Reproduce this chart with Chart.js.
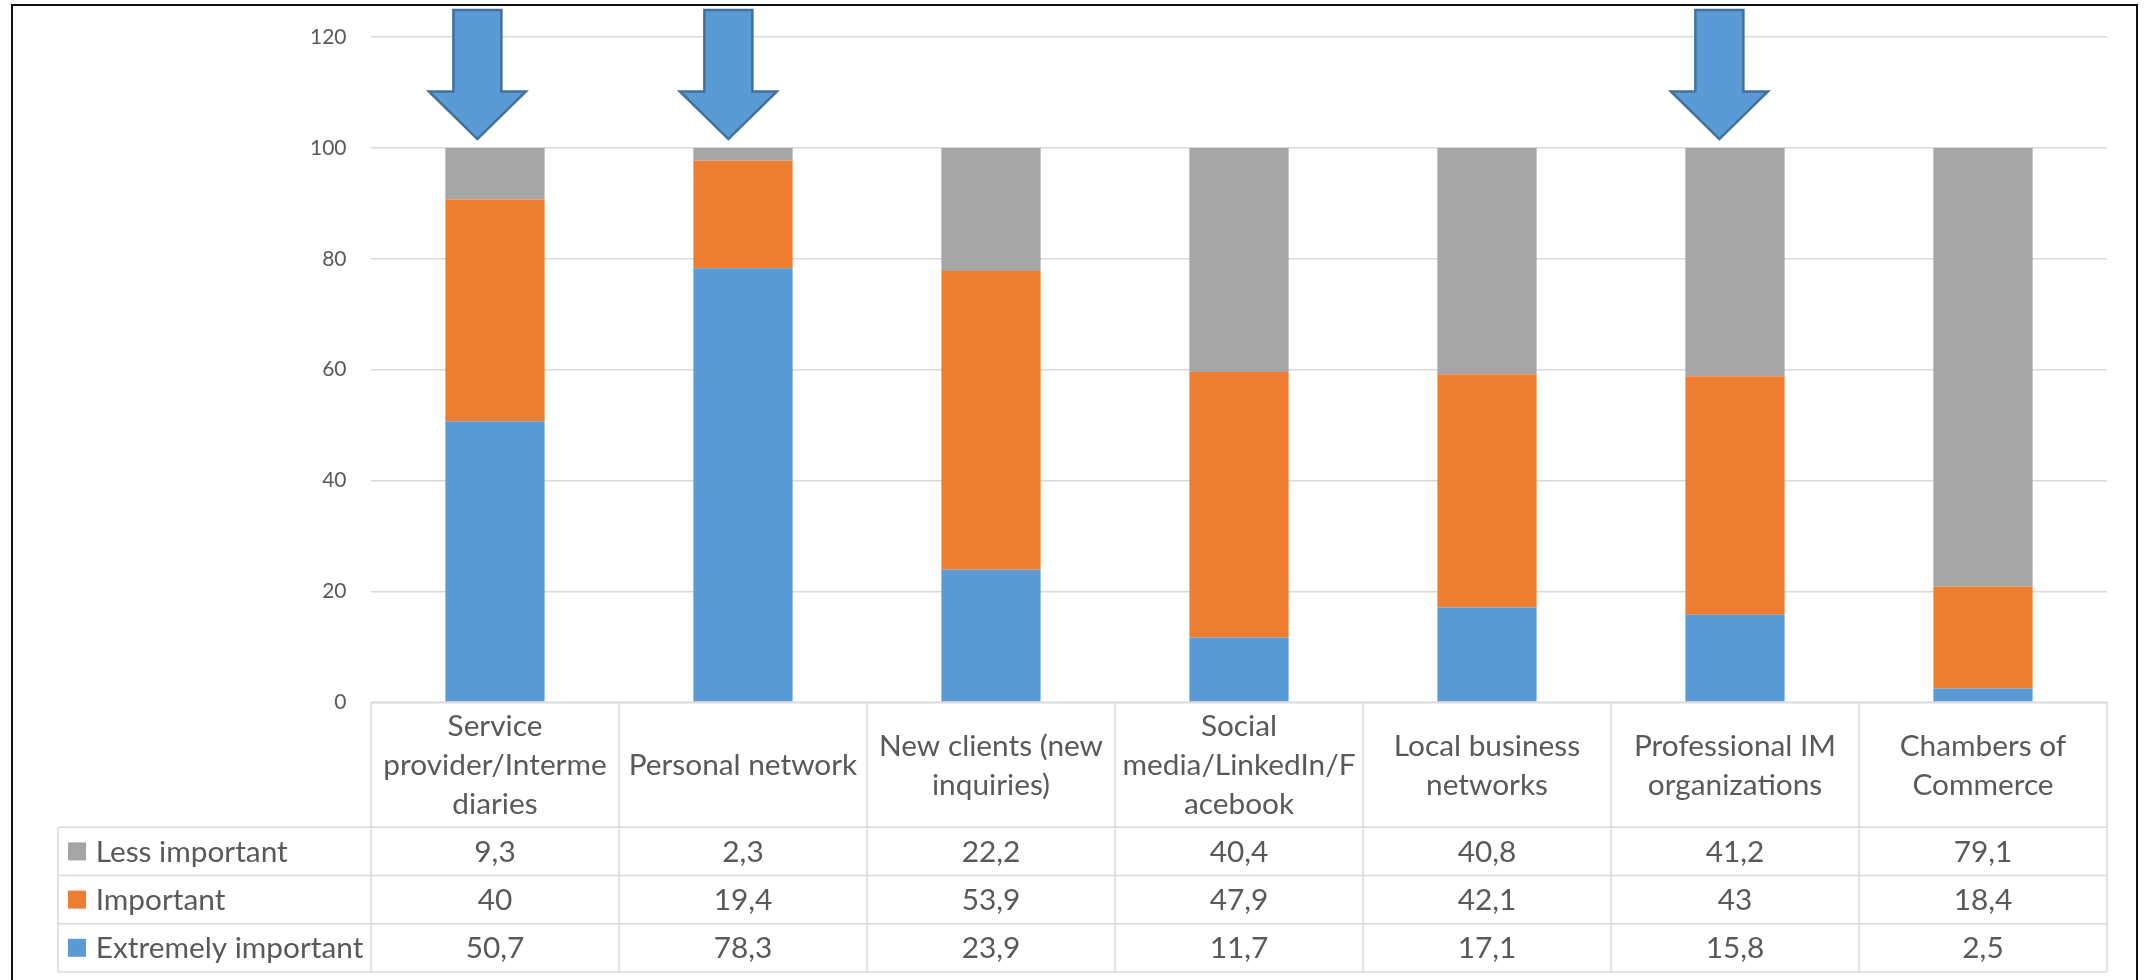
<!DOCTYPE html>
<html>
<head>
<meta charset="utf-8">
<title>Importance of channels</title>
<script src="https://cdn.jsdelivr.net/npm/chart.js@4.4.1/dist/chart.umd.min.js"></script>
<style>
  html, body { margin: 0; padding: 0; background: #ffffff; }
  #wrap { position: relative; width: 2147px; height: 980px; overflow: hidden; }
  canvas { display: block; }
</style>
</head>
<body>
<div id="wrap"><canvas id="chart" width="2147" height="980"></canvas></div>
<script>
// Category names, already broken into the lines shown in the table header
const categoryLines = [
  ["Service", "provider/Interme", "diaries"],
  ["Personal network"],
  ["New clients (new", "inquiries)"],
  ["Social", "media/LinkedIn/F", "acebook"],
  ["Local business", "networks"],
  ["Professional IM", "organizations"],
  ["Chambers of", "Commerce"]
];

// Shares per category (percent)
const lessImportant      = [9.3, 2.3, 22.2, 40.4, 40.8, 41.2, 79.1];
const important          = [40, 19.4, 53.9, 47.9, 42.1, 43, 18.4];
const extremelyImportant = [50.7, 78.3, 23.9, 11.7, 17.1, 15.8, 2.5];

// Value axis
const yMin = 0;
const yMax = 120;
const yStep = 20;

// Highlight arrows: category index and a small sideways shift in category units
const arrowMarks = [
  { cat: 0, shift: -0.071 },
  { cat: 1, shift: -0.059 },
  { cat: 5, shift: -0.063 }
];

const FONT = "Lato, Carlito, 'Liberation Sans', sans-serif";
const TEXT_COLOR = "#595959";
const LINE_COLOR = "#d9d9d9";

const TABLE = {
  headerHeight: 125,
  rowHeight: 48.2,
  legendWidth: 313,
  lineHeight: 39,
  baselineShift: 10.5,
  fontSize: 29.8,
  keySize: 18,
  keyInset: 10,
  textInset: 37.7
};

const ARROW = {
  tail: 124.9,   // value-axis positions of the arrow parts
  neck: 110.2,
  tip: 101.6,
  shaftHalf: 24,
  headHalf: 48.5,
  fill: "#5b9bd5",
  stroke: "#41719c",
  lineWidth: 2.5
};

const fmt = v => String(v).replace(".", ",");

// Outer frame around the whole figure
const framePlugin = {
  id: "frame",
  afterDraw(chart) {
    const { ctx } = chart;
    ctx.save();
    ctx.strokeStyle = "#111111";
    ctx.lineWidth = 2;
    ctx.strokeRect(12, 5, 2125, 1100);
    ctx.restore();
  }
};

// Data table under the plot: header with categories, one row per series
const tablePlugin = {
  id: "dataTable",
  afterDraw(chart) {
    const { ctx, chartArea: area, scales: { x } } = chart;
    const n = categoryLines.length;
    const colW = (area.right - area.left) / n;
    const top = area.bottom;
    const headerBottom = top + TABLE.headerHeight;
    const rows = chart.data.datasets.slice().reverse();
    const bottom = headerBottom + rows.length * TABLE.rowHeight;
    const tableLeft = area.left - TABLE.legendWidth;

    ctx.save();
    ctx.strokeStyle = LINE_COLOR;
    ctx.lineWidth = 1.5;
    ctx.beginPath();
    ctx.moveTo(area.left, top);
    ctx.lineTo(area.right, top);
    for (let r = 0; r <= rows.length; r++) {
      const y = headerBottom + r * TABLE.rowHeight;
      ctx.moveTo(tableLeft, y);
      ctx.lineTo(area.right, y);
    }
    for (let c = 0; c <= n; c++) {
      const xx = x.getPixelForValue(c) - colW / 2;
      ctx.moveTo(xx, top);
      ctx.lineTo(xx, bottom);
    }
    ctx.moveTo(tableLeft, headerBottom);
    ctx.lineTo(tableLeft, bottom);
    ctx.stroke();

    ctx.fillStyle = TEXT_COLOR;
    ctx.font = TABLE.fontSize + "px " + FONT;
    ctx.textBaseline = "alphabetic";
    ctx.textAlign = "center";

    const headCenter = (top + headerBottom) / 2;
    categoryLines.forEach((lines, i) => {
      const cx = x.getPixelForValue(i);
      lines.forEach((t, j) => {
        const y = headCenter + TABLE.baselineShift + (j - (lines.length - 1) / 2) * TABLE.lineHeight;
        ctx.fillText(t, cx, y);
      });
    });

    rows.forEach((ds, r) => {
      const rowCenter = headerBottom + (r + 0.5) * TABLE.rowHeight;
      const base = rowCenter + TABLE.baselineShift;
      ds.data.forEach((v, i) => {
        ctx.fillText(fmt(v), x.getPixelForValue(i), base);
      });
      ctx.fillStyle = ds.backgroundColor;
      ctx.fillRect(tableLeft + TABLE.keyInset, rowCenter - TABLE.keySize / 2, TABLE.keySize, TABLE.keySize);
      ctx.fillStyle = TEXT_COLOR;
      ctx.textAlign = "left";
      ctx.fillText(ds.label, tableLeft + TABLE.textInset, base);
      ctx.textAlign = "center";
    });
    ctx.restore();
  }
};

// Down arrows pointing at selected bars
const arrowPlugin = {
  id: "arrows",
  afterDraw(chart) {
    const { ctx, scales: { x, y } } = chart;
    const colW = (chart.chartArea.right - chart.chartArea.left) / categoryLines.length;
    const yTail = y.getPixelForValue(ARROW.tail);
    const yNeck = y.getPixelForValue(ARROW.neck);
    const yTip = y.getPixelForValue(ARROW.tip);
    ctx.save();
    ctx.fillStyle = ARROW.fill;
    ctx.strokeStyle = ARROW.stroke;
    ctx.lineWidth = ARROW.lineWidth;
    ctx.lineJoin = "miter";
    arrowMarks.forEach(m => {
      const cx = x.getPixelForValue(m.cat) + m.shift * colW;
      ctx.beginPath();
      ctx.moveTo(cx - ARROW.shaftHalf, yTail);
      ctx.lineTo(cx + ARROW.shaftHalf, yTail);
      ctx.lineTo(cx + ARROW.shaftHalf, yNeck);
      ctx.lineTo(cx + ARROW.headHalf, yNeck);
      ctx.lineTo(cx, yTip);
      ctx.lineTo(cx - ARROW.headHalf, yNeck);
      ctx.lineTo(cx - ARROW.shaftHalf, yNeck);
      ctx.closePath();
      ctx.fill();
      ctx.stroke();
    });
    ctx.restore();
  }
};

new Chart(document.getElementById("chart"), {
  type: "bar",
  data: {
    labels: categoryLines.map(l => l.join(" ")),
    datasets: [
      { label: "Extremely important", data: extremelyImportant, backgroundColor: "#5b9bd5" },
      { label: "Important", data: important, backgroundColor: "#ed7d31" },
      { label: "Less important", data: lessImportant, backgroundColor: "#a5a5a5" }
    ]
  },
  options: {
    responsive: false,
    animation: false,
    devicePixelRatio: 1,
    layout: { padding: { left: 0, right: 40, top: 34.4, bottom: 277.7 } },
    datasets: { bar: { categoryPercentage: 0.4, barPercentage: 1, borderWidth: 0 } },
    plugins: { legend: { display: false }, tooltip: { enabled: false } },
    scales: {
      x: {
        stacked: true,
        grid: { display: false, drawTicks: false },
        border: { display: false },
        ticks: { display: false },
        afterFit: s => { s.height = 0; }
      },
      y: {
        stacked: true,
        min: yMin,
        max: yMax,
        ticks: {
          stepSize: yStep,
          padding: 24.5,
          color: TEXT_COLOR,
          font: { family: FONT, size: 21 }
        },
        grid: { color: LINE_COLOR, lineWidth: 1.5, drawTicks: false },
        border: { display: false },
        afterFit: s => { s.width = 371; }
      }
    }
  },
  plugins: [tablePlugin, arrowPlugin, framePlugin]
});
</script>
</body>
</html>
